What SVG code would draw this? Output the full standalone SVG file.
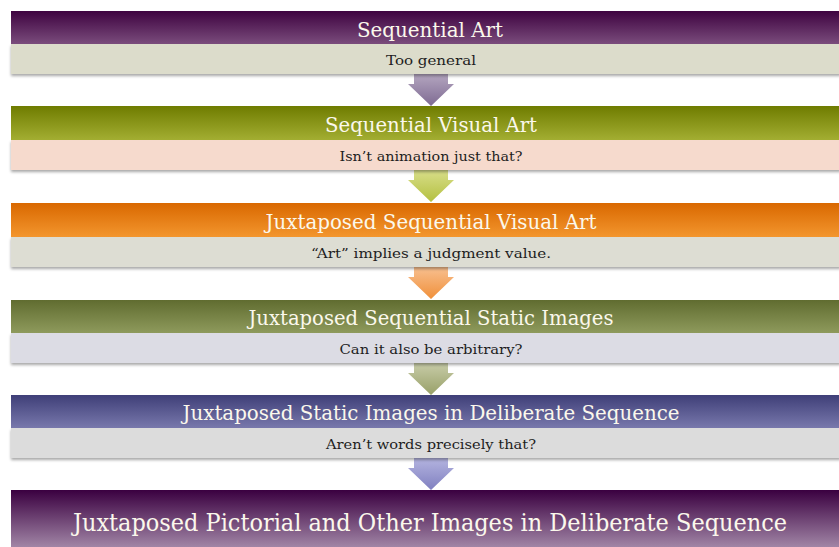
<svg xmlns="http://www.w3.org/2000/svg" width="839" height="547" viewBox="0 0 839 547">
<defs>
<style>
.ht{font-family:"DejaVu Serif","Liberation Serif",serif;font-size:20px;fill:#fbf8ec;text-anchor:middle}
.bt{font-family:"DejaVu Serif","Liberation Serif",serif;font-size:13px;fill:#1e1e1e;text-anchor:middle}
.body{filter:url(#sh)}
</style>
<filter id="sh" x="-5%" y="-30%" width="110%" height="180%">
<feGaussianBlur in="SourceAlpha" stdDeviation="1.5"/>
<feOffset dy="2"/>
<feComponentTransfer><feFuncA type="linear" slope="0.35"/></feComponentTransfer>
<feMerge><feMergeNode/><feMergeNode in="SourceGraphic"/></feMerge>
</filter>
<linearGradient id="g1" x1="0" y1="0" x2="0" y2="1"><stop offset="0" stop-color="#3e0340"/><stop offset="1" stop-color="#7a4c7c"/></linearGradient>
<linearGradient id="g2" x1="0" y1="0" x2="0" y2="1"><stop offset="0" stop-color="#6f7c00"/><stop offset="1" stop-color="#a3ae32"/></linearGradient>
<linearGradient id="g3" x1="0" y1="0" x2="0" y2="1"><stop offset="0" stop-color="#d96800"/><stop offset="1" stop-color="#f3962e"/></linearGradient>
<linearGradient id="g4" x1="0" y1="0" x2="0" y2="1"><stop offset="0" stop-color="#606c30"/><stop offset="1" stop-color="#8e9a5c"/></linearGradient>
<linearGradient id="g5" x1="0" y1="0" x2="0" y2="1"><stop offset="0" stop-color="#3f3f78"/><stop offset="1" stop-color="#7878ac"/></linearGradient>
<linearGradient id="g6" x1="0" y1="0" x2="0" y2="1"><stop offset="0" stop-color="#3a0040"/><stop offset="1" stop-color="#a68cab"/></linearGradient>
<linearGradient id="a1" x1="0" y1="0" x2="0" y2="1"><stop offset="0" stop-color="#b4a6c0"/><stop offset="1" stop-color="#7e6a92"/></linearGradient>
<linearGradient id="a2" x1="0" y1="0" x2="0" y2="1"><stop offset="0" stop-color="#d8de8a"/><stop offset="1" stop-color="#b4c040"/></linearGradient>
<linearGradient id="a3" x1="0" y1="0" x2="0" y2="1"><stop offset="0" stop-color="#f8c090"/><stop offset="1" stop-color="#f0903a"/></linearGradient>
<linearGradient id="a4" x1="0" y1="0" x2="0" y2="1"><stop offset="0" stop-color="#c8cca8"/><stop offset="1" stop-color="#98a068"/></linearGradient>
<linearGradient id="a5" x1="0" y1="0" x2="0" y2="1"><stop offset="0" stop-color="#b4b4e0"/><stop offset="1" stop-color="#8080c0"/></linearGradient>
<path id="arr" d="M414,0 H448 V10 H454 L431,32 L408,10 H414 Z"/>
</defs>
<rect width="839" height="547" fill="#ffffff"/>
<g id="connectors">
<use href="#arr" y="74" fill="url(#a1)"/>
<use href="#arr" y="170" fill="url(#a2)"/>
<use href="#arr" y="267" fill="url(#a3)"/>
<use href="#arr" y="363" fill="url(#a4)"/>
<use href="#arr" y="458" fill="url(#a5)"/>
</g>
<g id="node1">
<rect class="body" x="11" y="44" width="830" height="30" fill="#dcdccb"/>
<rect x="11" y="11" width="830" height="33" fill="url(#g1)"/>
<text class="ht" x="430" y="37" textLength="146" lengthAdjust="spacingAndGlyphs">Sequential Art</text>
<text class="bt" x="431" y="65" textLength="90" lengthAdjust="spacingAndGlyphs">Too general</text>
</g>
<g id="node2">
<rect class="body" x="11" y="140" width="830" height="30" fill="#f6dacd"/>
<rect x="11" y="106" width="830" height="34" fill="url(#g2)"/>
<text class="ht" x="431" y="132" textLength="212" lengthAdjust="spacingAndGlyphs">Sequential Visual Art</text>
<text class="bt" x="431" y="161" textLength="183" lengthAdjust="spacingAndGlyphs">Isn’t animation just that?</text>
</g>
<g id="node3">
<rect class="body" x="11" y="237" width="830" height="30" fill="#ddddd3"/>
<rect x="11" y="203" width="830" height="34" fill="url(#g3)"/>
<text class="ht" x="431" y="229" textLength="331" lengthAdjust="spacingAndGlyphs">Juxtaposed Sequential Visual Art</text>
<text class="bt" x="431" y="258" textLength="240" lengthAdjust="spacingAndGlyphs">“Art” implies a judgment value.</text>
</g>
<g id="node4">
<rect class="body" x="11" y="333" width="830" height="30" fill="#dcdce4"/>
<rect x="11" y="300" width="830" height="33" fill="url(#g4)"/>
<text class="ht" x="431" y="325" textLength="365" lengthAdjust="spacingAndGlyphs">Juxtaposed Sequential Static Images</text>
<text class="bt" x="431" y="354" textLength="183" lengthAdjust="spacingAndGlyphs">Can it also be arbitrary?</text>
</g>
<g id="node5">
<rect class="body" x="11" y="428" width="830" height="30" fill="#dcdcdc"/>
<rect x="11" y="395" width="830" height="33" fill="url(#g5)"/>
<text class="ht" x="431" y="420" textLength="497" lengthAdjust="spacingAndGlyphs">Juxtaposed Static Images in Deliberate Sequence</text>
<text class="bt" x="431" y="449" textLength="210" lengthAdjust="spacingAndGlyphs">Aren’t words precisely that?</text>
</g>
<g id="node6">
<rect x="11" y="490" width="830" height="60" fill="url(#g6)"/>
<text class="ht" x="430" y="531" style="font-size:24px" textLength="714" lengthAdjust="spacingAndGlyphs">Juxtaposed Pictorial and Other Images in Deliberate Sequence</text>
</g>
</svg>
